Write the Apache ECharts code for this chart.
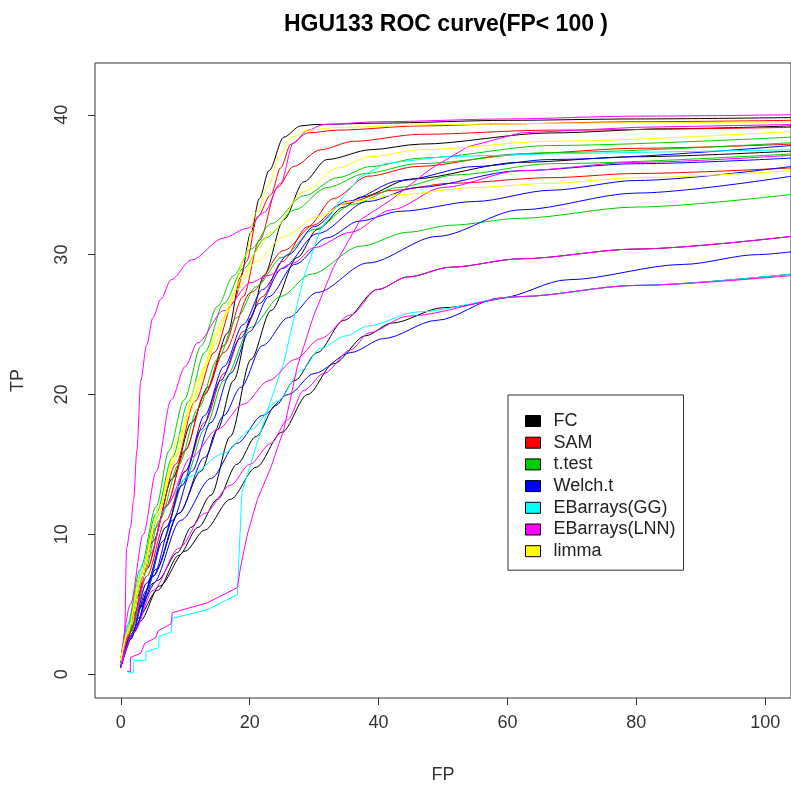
<!DOCTYPE html>
<html>
<head>
<meta charset="utf-8">
<script src="https://cdn.jsdelivr.net/npm/echarts@6/dist/echarts.min.js"></script>
<style>html,body{margin:0;padding:0;background:#fff}#main{width:791px;height:792px}</style>
</head>
<body>
<div id="main"></div>
<script>
var methods = ['FC', 'SAM', 't.test', 'Welch.t', 'EBarrays(GG)', 'EBarrays(LNN)', 'limma'];
var colors = ['#000000', '#ff0000', '#00cd00', '#0000ff', '#00ffff', '#ff00ff', '#ffff00'];
var xTicks = [0, 20, 40, 60, 80, 100];
var yTicks = [0, 10, 20, 30, 40];

// FC
var fc1 = [[0,0.5],[1,2.5],[2.5,5.5],[5,9.5],[8,14],[11,18],[13.5,20.5],[16.6,24.4],[18.6,28.4],[20.2,31.6],[21.5,34],[23,36],[25.3,38.4],[27.9,39.2],[30,39.3],[40,39.4],[60,39.6],[80,39.7],[104,39.8]];
var fc2 = [[0,0.5],[2.5,4.5],[5.5,7.5],[9,11.5],[12.4,14.5],[15,17.5],[17.5,21],[20.2,25.5],[22.2,28.5],[25.3,32.5],[28.4,35.2],[32,36.8],[38.8,37.5],[46.5,37.9],[66.7,38.7],[85,39],[104,39.2]];
var fc3 = [[0,0.5],[2.6,4.6],[5.7,6.7],[8.8,8.7],[10.9,10.5],[14,12.8],[17,17],[20.2,22.5],[23.3,26],[27.4,29.8],[30.5,31.8],[34.6,33.4],[37.2,34.1],[45,35.4],[62,36.6],[80,37],[104,37.4]];
var fc4 = [[0,0.5],[2.6,4],[5.7,6],[9,8.5],[12,10.5],[15,12.5],[18,15],[21,17],[24,19.2],[27,21],[30.5,23],[34.6,25.3],[39.8,27.5],[44.5,28.4],[51.2,29.1],[62,29.7],[80,30.4],[104,31.3]];
var fc5 = [[0,0.5],[3,3.8],[6,6.3],[10,8.8],[13,10.3],[17,12.5],[21,14.8],[25,17.3],[29,20],[33,22.2],[38,24.2],[42,25.1],[50,26.2],[62,27],[80,27.8],[104,28.6]];
// SAM
var sam1 = [[0,0.8],[1,2.5],[3,6.5],[5.5,10.5],[8.5,15],[11.5,19.5],[14.5,23],[17.5,26.6],[19.5,29.5],[21.2,32.7],[23.3,34.3],[24.8,36.2],[26.4,37.9],[29,38.7],[33.6,38.9],[46.5,39.2],[60,39.35],[80,39.5],[104,39.6]];
var sam2 = [[0,0.8],[1.5,3],[4,7.5],[7,12],[10,16],[13,20],[16,23.5],[19,27],[21.5,31],[24.3,34.8],[26.8,36.3],[31,37.5],[36.1,38.1],[46.5,38.6],[66.7,38.9],[104,39.1]];
var sam3 = [[0,0.8],[1.5,3],[4,7],[7,11],[10,14.5],[13,18],[16,21.5],[19,24.5],[22,27],[25,29.5],[29,32],[33,34],[38.3,35.6],[46,36.3],[62,37.2],[80,37.6],[104,37.9]];
var sam4 = [[0,0.8],[1.5,3.2],[4,7.5],[7,12],[10,16],[13,20],[16,23],[20.2,27.3],[25.3,30.3],[29.9,32.1],[34.1,33.6],[42.3,34.6],[51.2,35.1],[66.7,35.5],[80,35.8],[104,36.2]];
// t.test
var tt1 = [[0,1],[1,3.5],[3,7.5],[5.5,12],[7.5,16],[9.8,19.6],[12.5,23.5],[15,26.3],[17.5,28.5],[20.2,30.4],[23.3,32.2],[28.4,34.2],[33.6,35.5],[38.8,36.3],[46.5,36.9],[66.7,37.8],[104,38.4]];
var tt2 = [[0,1],[1,3.2],[3,7],[5.5,11.5],[8,15.5],[10.5,19.5],[13,23],[16,26.5],[19,29],[22.5,31.2],[27,33.2],[32,34.8],[38,35.8],[46,36.5],[66.7,37.3],[104,38]];
var tt3 = [[0,1],[1.2,3],[3.5,7],[6,11],[9,15],[12,19],[15,22.5],[18,25.5],[21,27.7],[25,29.8],[30,31.8],[36,33.6],[43,34.8],[52,35.7],[66.7,36.5],[104,37.2]];
var tt4 = [[0,1],[1.5,3],[4,6.5],[7,10.5],[10,14],[13,17.5],[16,21],[20.2,24.8],[24.8,27],[29.5,28.6],[37.2,30.6],[44.5,31.6],[51.2,32.1],[62,32.6],[80,33.4],[104,34.3]];
// Welch.t
var welch1 = [[0,0.5],[1.5,2.5],[4,6],[6.5,9.5],[9.5,13.5],[12.5,17.5],[15.5,21],[18.5,24],[21.5,26.5],[25,29],[30.5,31.5],[38.3,33.8],[46,34.8],[62,36],[80,36.5],[104,36.9]];
var welch2 = [[0,0.5],[2,3],[5,7],[8,11],[11,14.5],[14,18],[17,21.5],[20,24.5],[23,27],[27,29.3],[32,31.2],[37,32.4],[43.4,33.1],[55,33.8],[66.7,34.6],[80,35.3],[104,36.3]];
var welch3 = [[0,0.5],[2,3],[5,7],[9,11.5],[13,15.5],[16,18.5],[18.6,20.5],[22,23.5],[26,25.5],[30.5,27.3],[38.3,29.4],[49.1,31.3],[62,33.2],[80,34.4],[104,35.6]];
var welch4 = [[0,0.5],[2,3],[5,6.5],[9.3,11],[14,14],[18,16.5],[22,18.5],[26,20],[30,21.5],[35.7,23],[40.8,24],[49,25.3],[58.9,26.9],[69.3,28.2],[87.3,29.3],[98.8,30],[104,30.2]];
var welch5 = [[0,0.5],[1.5,2.5],[4,6.5],[7,10.5],[10,14.5],[13,18.5],[16,22],[19,25],[22,27.5],[26,30],[30,32],[35,33.8],[43.4,35.3],[55,36.3],[66.7,36.8],[104,37.8]];
// EBarrays(GG)
var gg1 = [[1.2,0.1],[2,0.1],[2,1],[3.9,1],[3.9,1.6],[5.9,1.9],[5.9,2.7],[7.8,3],[8,4],[13.4,4.6],[18.1,5.7],[18.4,9],[18.8,13],[21,16.3],[23.3,19.6],[25.3,22.3],[26.8,25.3],[28.4,28.4],[31,31.8],[34.1,33.9],[37,35.5],[41,36.5],[50,37],[66.7,37.2],[104,37.5]];
var gg2 = [[0,0.7],[1.5,4],[3.5,8],[6,11.5],[10.4,14.1],[16,15.8],[20.2,17.5],[24.3,19.5],[28,21.7],[31,23.3],[35,24.2],[38.3,24.9],[46,25.9],[62,27],[80,27.8],[104,28.6]];
// EBarrays(LNN)
var lnn1 = [[0.3,0.8],[0.6,3],[0.9,9],[1.5,10.5],[2,12.5],[2.5,16],[3.1,21],[4,23.5],[5,25.5],[6.2,26.8],[7.8,28.2],[10.9,29.6],[16,31.2],[19.7,31.9],[22.2,33],[24.8,35.1],[26.8,38],[29,38.9],[31.5,39.3],[40,39.5],[60,39.7],[80,39.9],[104,40]];
var lnn2 = [[1,0.2],[1.5,0.2],[1.5,1.2],[3.1,1.5],[3.7,2.2],[5.4,2.6],[5.8,3.1],[7.8,3.6],[8,4.4],[13.4,5.1],[18.1,6.2],[18.6,7.7],[19.7,10.1],[21.2,12.5],[23.3,14.8],[25.3,17.5],[27.4,22],[29.9,25.6],[33,29.1],[37.2,32.5],[41.9,33.9],[48,36.1],[53.8,37.7],[62,38.7],[80,39.1],[104,39.3]];
var lnn3 = [[0,0.5],[2,3],[5,6],[9,9],[13,11.5],[17,13.5],[20,15],[23.3,16.5],[25.9,18.2],[28.4,20.3],[31.5,21.5],[35.7,23.2],[38.5,24.4],[44.5,25.6],[62,27],[80,27.8],[104,28.5]];
var lnn4 = [[0,0.5],[2,4],[4.5,8.5],[7,12],[10.9,15.5],[15,17.5],[19,19.3],[23,21],[27,22.5],[31,24],[35.7,25.7],[39.8,27.5],[44.5,28.4],[51.2,29.1],[62,29.7],[80,30.4],[104,31.3]];
var lnn5 = [[0,1],[1.5,5],[3.5,10],[5.5,14.5],[7.8,19.6],[10,22],[11.9,23.7],[16,26],[20.2,28],[22.8,28.5],[26.8,29.4],[30,30.5],[35.7,31.6],[42,33.2],[50,34.8],[62,36],[80,36.6],[104,37.1]];
// limma
var limma1 = [[0,1],[1,2.8],[3,7],[5.5,11],[8.5,15.5],[11.5,20],[14.5,23.5],[17.2,26.8],[19.2,29.8],[21,33],[23,35],[24.5,37],[26.5,38.4],[29,38.9],[34,39.1],[50,39.3],[70,39.4],[104,39.5]];
var limma2 = [[0,1],[1,3],[3,6.5],[5.5,11],[8,15],[10.5,18.5],[13,22],[16,25.5],[19,28.5],[21,30.2],[23.3,31.6],[28.4,34.5],[33.6,36.2],[38.8,37],[46.5,37.5],[66.7,38.1],[104,38.8]];
var limma3 = [[0,1],[1.5,3.5],[3.5,7.5],[6,12],[9,17],[12,21],[15,24.5],[18,27.5],[21,29.5],[25.3,31.3],[30.5,32.7],[35.7,33.8],[43.4,34.3],[55,34.8],[66.7,35.1],[80,35.5],[104,36]];

var curves = [
  [0, fc1], [0, fc2], [0, fc3], [0, fc4], [0, fc5],
  [1, sam1], [1, sam2], [1, sam3], [1, sam4],
  [2, tt1], [2, tt2], [2, tt3], [2, tt4],
  [3, welch1], [3, welch2], [3, welch3], [3, welch4], [3, welch5],
  [4, gg1], [4, gg2],
  [5, lnn1], [5, lnn2], [5, lnn3], [5, lnn4], [5, lnn5],
  [6, limma1], [6, limma2], [6, limma3]
];
var stepped = [gg1, lnn2];

var series = curves.map(function (c) {
  var isStep = stepped.indexOf(c[1]) >= 0;
  return {
    name: methods[c[0]],
    type: 'line',
    data: c[1],
    showSymbol: false,
    smooth: isStep ? false : 0.3,
    smoothMonotone: isStep ? null : 'x',
    itemStyle: { color: colors[c[0]] },
    lineStyle: { color: colors[c[0]], width: 1 },
    emphasis: { disabled: true }
  };
});

var myChart = echarts.init(document.getElementById('main'));
var font = 'Liberation Sans, Arial, sans-serif';

myChart.setOption({
  animation: false,
  backgroundColor: '#ffffff',
  title: {
    text: 'HGU133 ROC curve(FP< 100 )',
    left: 441,
    textAlign: 'center',
    top: 8,
    textStyle: { fontFamily: font, fontSize: 23, fontWeight: 'bold', color: '#000' }
  },
  grid: {
    left: 95, top: 63, width: 697, height: 635,
    show: true, borderColor: '#333', borderWidth: 1, backgroundColor: 'transparent'
  },
  legend: {
    data: methods,
    orient: 'vertical',
    left: 508,
    top: 395,
    icon: 'rect',
    itemWidth: 15,
    itemHeight: 11,
    itemGap: 3.7,
    padding: [17, 8, 10, 17],
    borderColor: '#333',
    borderWidth: 1,
    backgroundColor: '#fff',
    itemStyle: { borderColor: '#000', borderWidth: 1 },
    textStyle: { fontFamily: font, fontSize: 18, lineHeight: 18, color: '#222', padding: [0, 0, 0, 8] }
  },
  xAxis: {
    type: 'value',
    min: -4,
    max: 104,
    name: 'FP',
    nameLocation: 'middle',
    nameGap: 68,
    nameTextStyle: { fontFamily: font, fontSize: 18, color: '#333' },
    axisLine: { show: false, onZero: false },
    axisTick: { show: true, inside: false, length: 7, customValues: xTicks, lineStyle: { color: '#333' } },
    axisLabel: { customValues: xTicks, margin: 16, fontFamily: font, fontSize: 18, color: '#333' },
    splitLine: { show: false }
  },
  yAxis: {
    type: 'value',
    min: -1.7,
    max: 43.7,
    name: 'TP',
    nameLocation: 'middle',
    nameGap: 68,
    nameRotate: 90,
    nameTextStyle: { fontFamily: font, fontSize: 18, color: '#333' },
    axisLine: { show: false, onZero: false },
    axisTick: { show: true, inside: false, length: 7, customValues: yTicks, lineStyle: { color: '#333' } },
    axisLabel: { customValues: yTicks, rotate: 90, margin: 24, fontFamily: font, fontSize: 18, color: '#333' },
    splitLine: { show: false }
  },
  series: series
});
</script>
</body>
</html>
